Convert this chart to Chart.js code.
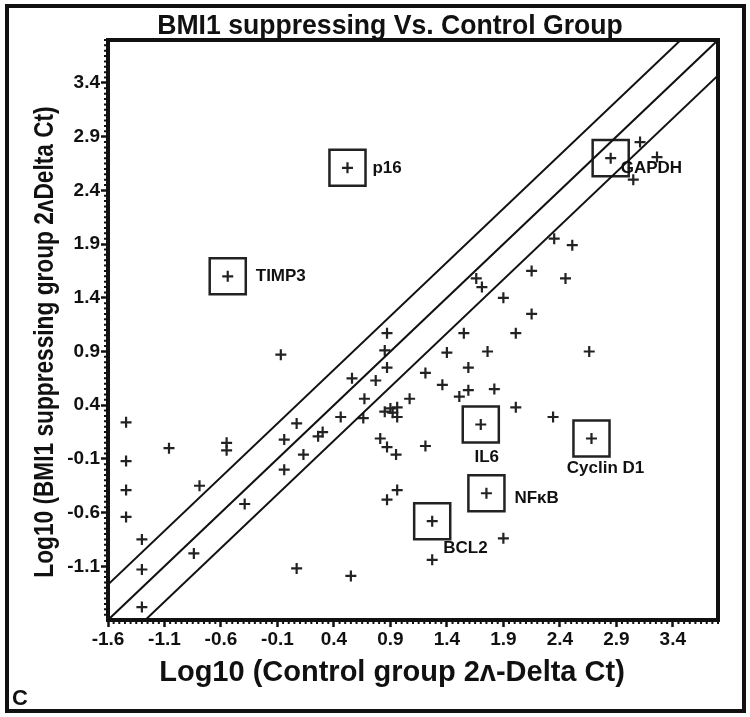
<!DOCTYPE html>
<html>
<head>
<meta charset="utf-8">
<script src="https://cdn.jsdelivr.net/npm/chart.js@4.4.1/dist/chart.umd.min.js"></script>
<style>
  html, body { margin: 0; padding: 0; background: #fff; }
</style>
</head>
<body>
<canvas id="c" width="750" height="717"></canvas>
<script>
// values (log10 of 2^-dCt)
const controlX = [-1.44, -1.44, -1.44, -1.44, -1.30, -1.30, -1.30, -1.06, -0.79, -0.84,
  -0.55, -0.55, -0.39, -0.07, -0.04, -0.04, 0.07, 0.13, 0.07, 0.26,
  0.30, 0.46, 0.56, 0.55, 0.67, 0.66, 0.77, 0.87, 0.85, 0.87,
  0.85, 0.90, 0.96, 0.96, 0.92, 0.81, 0.87, 0.95, 1.21, 1.07,
  1.21, 1.36, 1.40, 1.55, 1.59, 1.51, 1.59, 1.76, 1.82, 2.01,
  2.01, 2.34, 2.66, 2.35, 2.51, 2.15, 2.45, 1.66, 1.71, 1.90,
  2.15, 3.11, 3.26, 3.05, 1.90, 1.27, 0.96, 0.87];
const bmi1Y = [0.24, -0.12, -0.39, -0.64, -0.85, -1.13, -1.48, 0.00, -0.35, -0.98,
  0.05, -0.02, -0.52, 0.87, 0.08, -0.20, 0.23, -0.06, -1.12, 0.11,
  0.15, 0.29, 0.65, -1.19, 0.46, 0.28, 0.63, 0.75, 0.91, 1.07,
  0.34, 0.37, 0.38, 0.29, 0.33, 0.09, 0.01, -0.06, 0.02, 0.46,
  0.70, 0.59, 0.89, 1.07, 0.75, 0.48, 0.54, 0.90, 0.55, 1.07,
  0.38, 0.29, 0.90, 1.95, 1.89, 1.65, 1.58, 1.58, 1.50, 1.40,
  1.25, 2.85, 2.71, 2.50, -0.84, -1.04, -0.39, -0.48];

const genes = ["p16", "TIMP3", "GAPDH", "IL6", "Cyclin D1", "NF\u03baB", "BCL2"];
const geneX = [0.52, -0.54, 2.85, 1.70, 2.68, 1.75, 1.27];
const geneY = [2.61, 1.60, 2.70, 0.22, 0.09, -0.42, -0.68];

const xTicks = [-1.6, -1.1, -0.6, -0.1, 0.4, 0.9, 1.4, 1.9, 2.4, 2.9, 3.4];
const yTicks = [-1.1, -0.6, -0.1, 0.4, 0.9, 1.4, 1.9, 2.4, 2.9, 3.4];
const foldLines = [0.33, 0, -0.33];   // fold-change band round y = x

const AX_MIN = -1.6, AX_MAX = 3.8;
const FONT = '"Liberation Sans Narrow", "Liberation Sans", Arial, sans-serif';

// label placement next to each boxed gene: [dx, dy, align]
const labelPos = [[25, 0, "left"], [28, 0, "left"], [10, 10, "left"], [6, 33, "center"],
  [14, 30, "center"], [28, 5, "left"], [11, 27, "left"]];

const points = controlX.map((x, i) => ({ x, y: bmi1Y[i] }))
  .concat(geneX.map((x, i) => ({ x, y: geneY[i] })));
const genePts = geneX.map((x, i) => ({ x, y: geneY[i] }));

function squeezeText(ctx, txt, x, y, sx) {
  ctx.save();
  ctx.translate(x, y);
  ctx.scale(sx, 1);
  ctx.fillText(txt, 0, 0);
  ctx.restore();
}

const decor = {
  id: "decor",
  afterDraw(chart) {
    const { ctx, chartArea: a, scales } = chart;
    ctx.save();
    ctx.strokeStyle = "#111";
    ctx.fillStyle = "#111";

    // plot frame + outer border
    ctx.lineWidth = 4;
    ctx.strokeRect(a.left, a.top, a.right - a.left, a.bottom - a.top);
    ctx.strokeRect(7, 6, 737, 705);

    // minor ticks every 0.05
    ctx.lineWidth = 2;
    ctx.beginPath();
    for (let i = 0; i <= 108; i++) {
      if (i % 10 === 0) continue;
      const v = AX_MIN + i * 0.05;
      const px = scales.x.getPixelForValue(v);
      const py = scales.y.getPixelForValue(v);
      ctx.moveTo(px, a.bottom); ctx.lineTo(px, a.bottom + 4);
      ctx.moveTo(a.left, py); ctx.lineTo(a.left - 4, py);
    }
    ctx.stroke();

    // titles
    ctx.textBaseline = "middle";
    ctx.textAlign = "center";
    ctx.font = "bold 28px " + FONT;
    squeezeText(ctx, "BMI1 suppressing Vs. Control Group", 390, 26, 0.95);
    ctx.font = "bold 29px " + FONT;
    squeezeText(ctx, "Log10 (Control group 2\u028C-Delta Ct)", 392, 673, 1.0);
    ctx.save();
    ctx.translate(46, 342);
    ctx.rotate(-Math.PI / 2);
    ctx.font = "bold 27px " + FONT;
    squeezeText(ctx, "Log10 (BMI1 suppressing group 2\u028CDelta Ct)", 0, 0, 0.84);
    ctx.restore();
    ctx.textAlign = "left";
    ctx.font = "bold 22px " + FONT;
    ctx.fillText("C", 12, 699);

    // gene labels
    ctx.font = "bold 17px " + FONT;
    genes.forEach((g, i) => {
      const [dx, dy, al] = labelPos[i];
      const px = scales.x.getPixelForValue(geneX[i]) + dx;
      const py = scales.y.getPixelForValue(geneY[i]) + dy;
      ctx.textAlign = al;
      ctx.fillText(g, px, py);
    });
    ctx.restore();
  }
};

const axisCommon = {
  type: "linear",
  min: AX_MIN,
  max: AX_MAX,
  grid: { drawOnChartArea: false, drawTicks: true, tickLength: 7, tickWidth: 2.5, tickColor: "#111" },
  border: { display: false },
  ticks: {
    autoSkip: false, maxRotation: 0, padding: 1, color: "#111",
    font: { family: FONT, size: 19, weight: "bold" },
    callback: v => v.toFixed(1)
  }
};

new Chart(document.getElementById("c"), {
  type: "scatter",
  data: {
    datasets: foldLines.map(off => ({
      type: "line",
      data: [{ x: AX_MIN, y: AX_MIN + off }, { x: AX_MAX, y: AX_MAX + off }],
      borderColor: "#111", borderWidth: 2, pointRadius: 0, fill: false
    })).concat([
      { data: points, pointStyle: "cross", pointRadius: 5.5, borderColor: "#222", borderWidth: 2.2 },
      { data: genePts, pointStyle: "rect", pointRadius: 25.5, borderColor: "#222", borderWidth: 2.5,
        backgroundColor: "rgba(0,0,0,0)" }
    ])
  },
  options: {
    responsive: false,
    animation: false,
    layout: { padding: { top: 40, right: 32, left: 0, bottom: 0 } },
    plugins: { legend: { display: false }, tooltip: { enabled: false } },
    scales: {
      x: Object.assign({}, axisCommon, {
        afterBuildTicks: s => { s.ticks = xTicks.map(v => ({ value: v })); },
        afterFit: s => { s.height = 97; }
      }),
      y: Object.assign({}, axisCommon, {
        afterBuildTicks: s => { s.ticks = yTicks.map(v => ({ value: v })); },
        afterFit: s => { s.width = 108; }
      })
    }
  },
  plugins: [decor]
});
</script>
</body>
</html>
